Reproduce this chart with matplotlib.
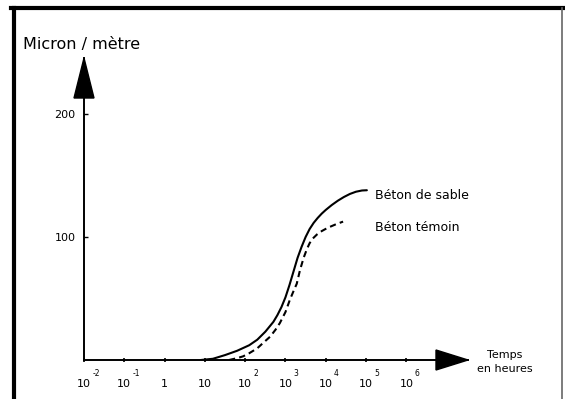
"""Retrait (micron/metre) en fonction du temps : beton de sable vs beton temoin."""
import numpy as np
import matplotlib
matplotlib.use("Agg")
import matplotlib.pyplot as plt
from matplotlib.lines import Line2D
from matplotlib.patches import Polygon
from matplotlib.transforms import offset_copy

# log10(temps en heures) -> retrait en micron / metre
sable_logt = [0.9, 1.2, 1.5, 1.8, 2.1, 2.3, 2.5, 2.7, 2.8, 2.9, 3.0, 3.1, 3.2,
              3.3, 3.4, 3.5, 3.6, 3.7, 3.8, 3.9, 4.0, 4.15, 4.3, 4.45, 4.6,
              4.75, 4.9, 5.02]
sable_val = [0, 1, 4, 7.5, 12, 16.5, 23, 31, 36.5, 43, 51, 61, 72,
             83, 92, 100, 106.5, 111.5, 115.5, 119, 122, 126, 129.5, 132.5,
             135, 136.8, 137.8, 138]

temoin_logt = [1.6, 1.8, 1.95, 2.1, 2.3, 2.45, 2.62, 2.75, 2.86, 3.0, 3.11,
               3.2, 3.28, 3.36, 3.45, 3.53, 3.6, 3.68, 3.78, 3.9, 4.05, 4.25,
               4.43]
temoin_val = [0, 1.5, 3, 5.5, 9.5, 14, 19, 24.5, 30, 39, 49,
              56, 62, 73, 83, 90, 95, 98.8, 102, 104.8, 107.5, 110.3, 112.5]

decades = [-2, -1, 0, 1, 2, 3, 4, 5, 6]
tick_base = ["10", "10", "1", "10", "10", "10", "10", "10", "10"]
tick_sup = ["-2", "-1", "", "", "2", "3", "4", "5", "6"]
y_ticks = [100, 200]

W, H = 565, 399
fig = plt.figure(figsize=(W / 100, H / 100), dpi=100)

# axes placed in pixel terms: origin at (84, 360), arrow tips at x=468 / y=58
x0, y0, x1, y1 = 84, 360, 468, 58
ax = fig.add_axes([x0 / W, 1 - y0 / H, (x1 - x0) / W, (y0 - y1) / H])
ax.set_xscale("log")
ax.set_xlim(1e-2, 10 ** 7.53)
ax.set_ylim(0, 245.5)
ax.patch.set_alpha(0)

for s in ("top", "right"):
    ax.spines[s].set_visible(False)
for s in ("left", "bottom"):
    ax.spines[s].set_linewidth(1.4)
    ax.spines[s].set_color("black")

# arrow heads on both axes
ax_w, ax_h = x1 - x0, y0 - y1
ax.add_patch(Polygon([(0, 1), (-10 / ax_w, 1 - 40 / ax_h), (10 / ax_w, 1 - 40 / ax_h)],
                     closed=True, color="black", transform=ax.transAxes, clip_on=False))
ax.add_patch(Polygon([(1, 0), (1 - 32 / ax_w, 10 / ax_h), (1 - 32 / ax_w, -10 / ax_h)],
                     closed=True, color="black", transform=ax.transAxes, clip_on=False))

# curves
sable_t = 10.0 ** np.array(sable_logt)
temoin_t = 10.0 ** np.array(temoin_logt)
ax.plot(sable_t, sable_val, color="black", lw=1.5, solid_capstyle="round",
        solid_joinstyle="round")
ax.plot(temoin_t, temoin_val, color="black", lw=1.5, dashes=(3, 2))

ax.text(10 ** 5.22, 134, "Béton de sable", fontsize=9, va="center", ha="left")
ax.text(10 ** 5.22, 108, "Béton témoin", fontsize=9, va="center", ha="left")

# ticks
ax.set_xticks([10.0 ** d for d in decades])
ax.set_xticks([], minor=True)
ax.tick_params(axis="x", direction="inout", length=3, width=1.2, labelbottom=False)
ax.set_yticks(y_ticks)
ax.set_yticklabels([str(v) for v in y_ticks], fontsize=8)
ax.tick_params(axis="y", direction="in", length=3, width=1.0, pad=6)

xt = ax.get_xaxis_transform()
sup_tr = offset_copy(xt, fig=fig, x=6, y=0, units="points")
for d, base, sup in zip(decades, tick_base, tick_sup):
    ax.text(10.0 ** d, -24 / ax_h, base, transform=xt, fontsize=8,
            ha="center", va="center", clip_on=False)
    if sup:
        ax.text(10.0 ** d, -14 / ax_h, sup, transform=sup_tr, fontsize=5.5,
                ha="left", va="center", clip_on=False)

fig.text(23 / W, 1 - 45 / H, "Micron / mètre", fontsize=11.5, ha="left", va="center")
fig.text(505 / W, 1 - 362 / H, "Temps\nen heures", fontsize=8, ha="center",
         va="center", linespacing=1.5)

# page frame
fig.add_artist(Line2D([11 / W, 1], [1 - 8 / H, 1 - 8 / H], color="black", lw=3.0,
                      transform=fig.transFigure))
fig.add_artist(Line2D([13.5 / W, 13.5 / W], [0, 1 - 8 / H], color="black", lw=3.0,
                      transform=fig.transFigure))
fig.add_artist(Line2D([562 / W, 562 / W], [0, 1 - 8 / H], color="#666666", lw=1.2,
                      transform=fig.transFigure))

fig.savefig("out.png", dpi=100)
